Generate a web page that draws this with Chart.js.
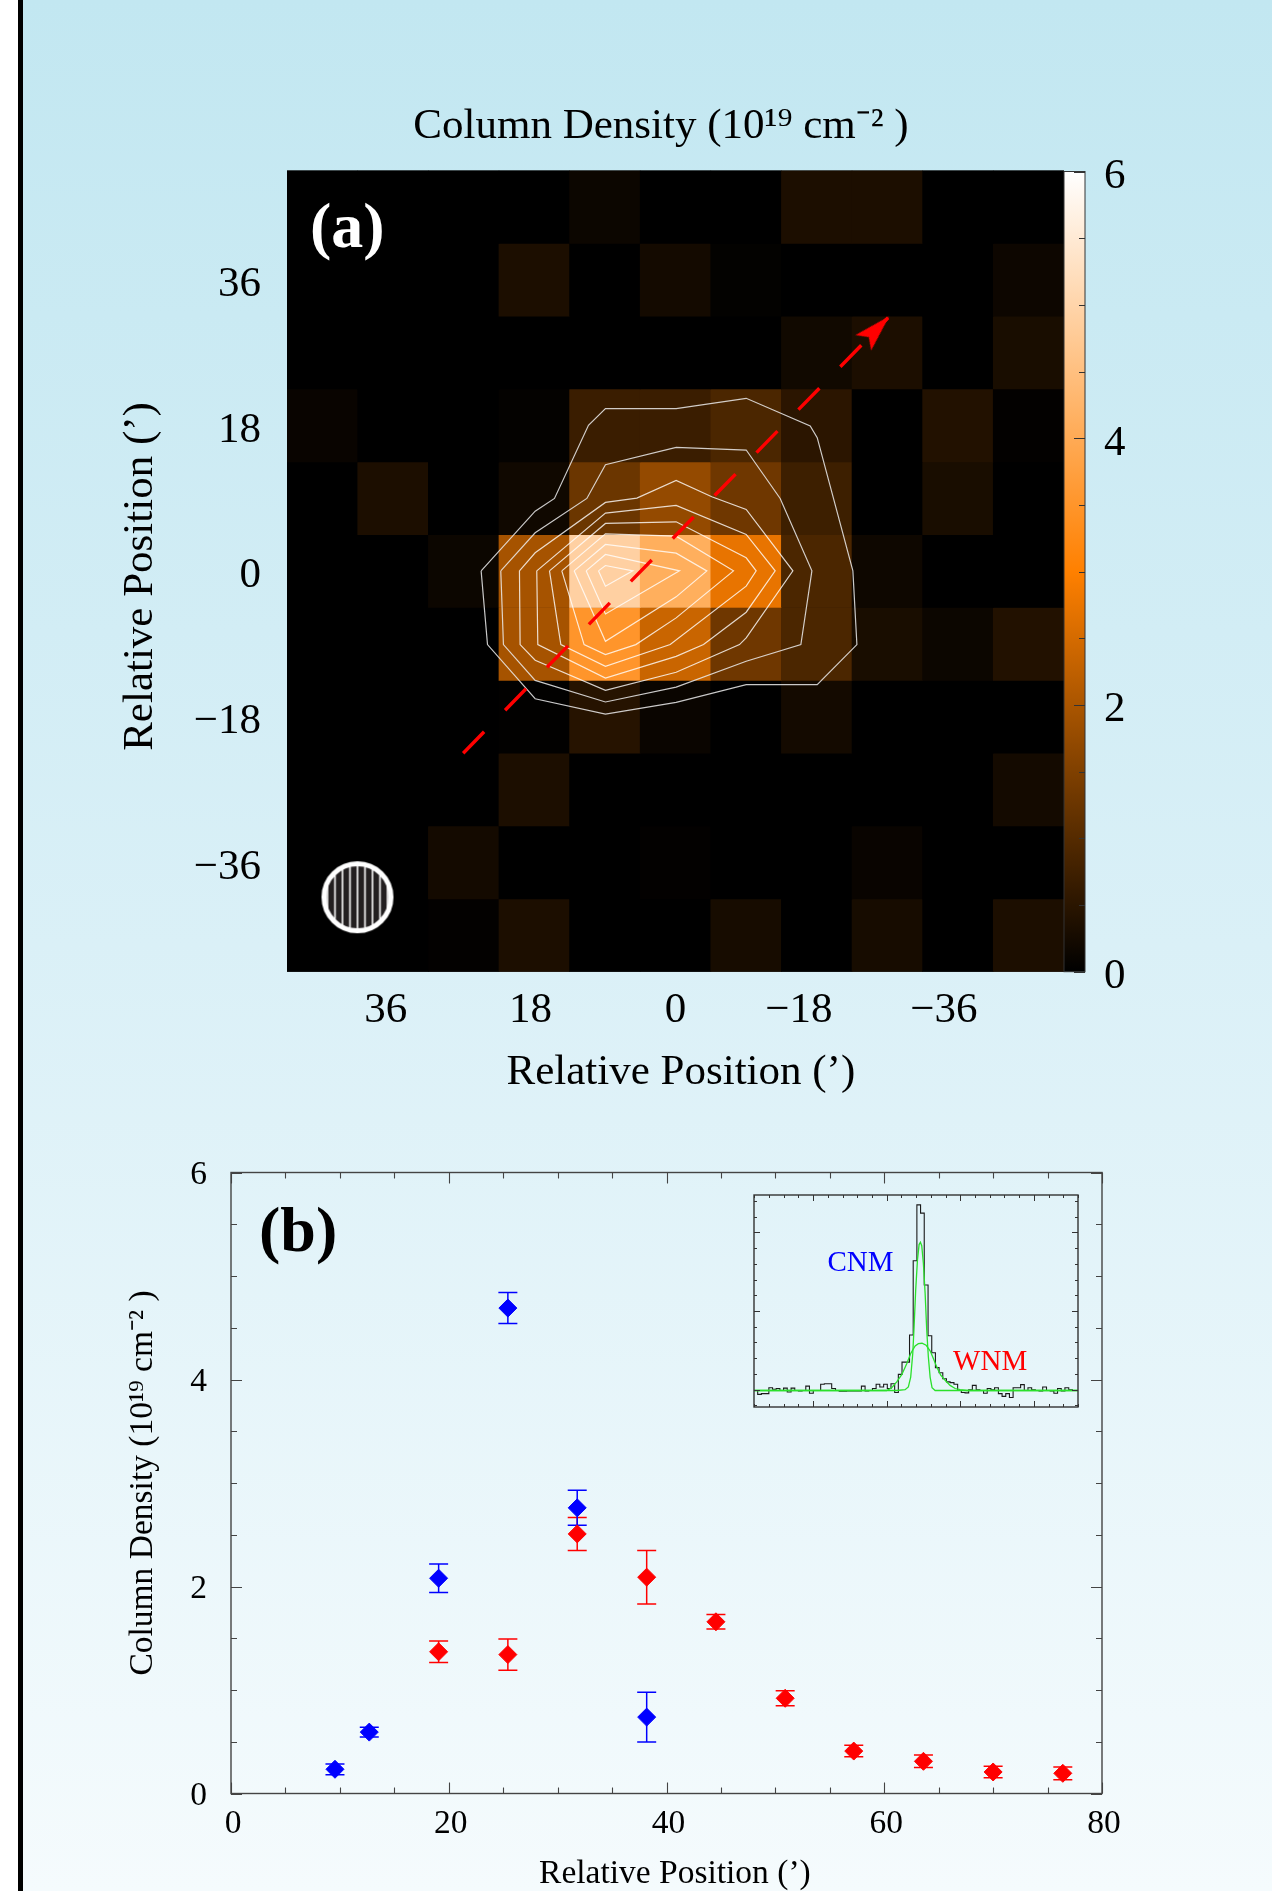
<!DOCTYPE html>
<html>
<head>
<meta charset="utf-8">
<title>Column Density</title>
<script src="https://cdn.jsdelivr.net/npm/chart.js@4"></script>
<style>
html,body{margin:0;padding:0;width:1272px;height:1891px;overflow:hidden;background:#fff}
#bg{position:absolute;left:23px;top:0;width:1249px;height:1891px;background:linear-gradient(180deg,#c2e7f1 0%,#daf0f7 50%,#f5fbfd 100%)}
#rule{position:absolute;left:18px;top:0;width:5px;height:1891px;background:#000}
canvas{position:absolute;display:block}
</style>
</head>
<body>
<div id="bg"></div><div id="rule"></div>
<canvas id="heat" width="1092" height="1001" style="left:115px;top:98px"></canvas>
<canvas id="bar" width="77" height="882" style="left:1063px;top:130px"></canvas>
<canvas id="profile" width="1009" height="752" style="left:123px;top:1142px"></canvas>
<canvas id="inset" width="328" height="216" style="left:752px;top:1193px"></canvas>
<script>
/* ---------- panel (a): column density map ---------- */
const mapColumns = [43.85, 35.08, 26.31, 17.54, 8.77, 0, -8.77, -17.54, -26.31, -35.08, -43.85];
const mapRows = [45, 36, 27, 18, 9, 0, -9, -18, -27, -36, -45];
const mapValues = [
  [0,0,0,0,0.14,0,0,0.33,0.33,0,0],
  [0,0,0,0.33,0,0.24,0.04,0,0,0,0.15],
  [0,0,0,0,0,0,0,0.2,0.33,0,0.3],
  [0.1,0,0,0.05,0.68,0.68,0.88,0.5,0,0.4,0.03],
  [0,0.33,0,0.19,1.26,1.74,1.3,0.72,0,0.3,0],
  [0,0,0.14,1.95,4.9,4.1,2.73,0.88,0.17,0,0],
  [0,0,0,1.95,3.5,2.36,1.3,0.88,0.3,0.14,0.4],
  [0,0,0,0.02,0.45,0.12,0,0.24,0,0,0],
  [0,0,0,0.33,0,0,0,0,0,0,0.24],
  [0,0,0.24,0,0,0.03,0,0,0.1,0,0],
  [0,0,0.03,0.33,0,0,0.27,0,0.27,0,0.33]
];
const contours = [
  [[24.14,0.03],[23.35,-9.08],[17.43,-15.77],[8.7,-17.66],[-0.08,-16.22],[-8.78,-14.03],[-17.6,-14.03],[-22.53,-9.08],[-22.03,0.03],[-17.6,16.49],[-16.73,17.93],[-8.78,21.35],[-0.08,20.07],[8.7,20.07],[10.81,18.01],[15.03,8.98],[17.43,7.41],[24.14,0.03]],
  [[21.7,0.03],[21.37,-9.08],[17.43,-13.5],[8.7,-16.17],[-0.08,-14.33],[-8.78,-11.14],[-15.57,-9.08],[-16.94,0.03],[-13,8.98],[-8.78,14.96],[-0.08,15.29],[8.7,13.15],[11.01,8.98],[17.43,4.73],[21.7,0.03]],
  [[19.38,0.03],[19.3,-9.08],[17.43,-11.02],[8.7,-14.73],[-0.08,-12.5],[-7.95,-9.08],[-8.78,-8.26],[-14.58,0.03],[-8.78,7.62],[-4.51,9.19],[-0.08,11.21],[4.8,9.02],[8.7,8.49],[17.43,2.26],[19.38,0.03]],
  [[17.23,0.03],[17.1,-9.08],[8.7,-13.21],[-0.08,-10.53],[-3.48,-9.08],[-8.78,-5.08],[-12.38,0.03],[-8.78,4.53],[-0.08,8.12],[8.7,7.17],[17.23,0.03]],
  [[15.65,0.03],[14.24,-9.08],[8.7,-11.76],[0.66,-9.08],[-8.78,-1.86],[-10.02,0.03],[-8.78,1.64],[-0.08,6.09],[8.7,5.89],[15.65,0.03]],
  [[14.12,0.03],[11.35,-9.08],[8.7,-10.32],[4.93,-9.08],[-0.08,-5.78],[-7.2,0.03],[-0.08,4.32],[8.7,4.61],[14.12,0.03]],
  [[12.59,0.03],[8.7,-8.67],[-0.08,-3.18],[-3.89,0.03],[-0.08,2.22],[8.7,3.29],[12.59,0.03]],
  [[11.1,0.03],[8.7,-5.29],[-0.5,0.03],[8.7,2.05],[11.1,0.03]],
  [[9.57,0.03],[8.7,-1.87],[5.3,0.03],[8.7,0.69],[9.57,0.03]]
];
const cutLine = [[26.37,-22.5],[-26.4,31.3]];
const arrowHeadAt = [-24.88,29.8];
const beamAt = [39.5,-40.3];
const mapTicks = [36,18,0,-18,-36];
const colorStopValues = [0,3,6];
const colorStopRgb = [[0,0,0],[255,128,0],[255,255,255]];
const colorbarMajor = [0,2,4,6];
const colorbarMinor = [0.5,1,1.5,2.5,3,3.5,4.5,5,5.5];

/* ---------- panel (b): column density vs position ---------- */
const cnmX = [9.55,12.7,19.07,25.43,31.8,38.18];
const cnmY = [0.234,0.593,2.08,4.69,2.76,0.738];
const cnmErr = [0.052,0.047,0.138,0.15,0.169,0.24];
const wnmX = [19.07,25.43,31.8,38.18,44.54,50.9,57.2,63.6,70,76.4];
const wnmY = [1.369,1.342,2.508,2.09,1.659,0.92,0.41,0.311,0.208,0.195];
const wnmErr = [0.104,0.15,0.159,0.259,0.07,0.072,0.055,0.06,0.056,0.061];
const profileXMajor = [0,20,40,60,80];
const profileXMinor = [5,10,15,25,30,35,45,50,55,65,70,75];
const profileYMajor = [0,2,4,6];
const profileYMinor = [0.5,1,1.5,2.5,3,3.5,4.5,5,5.5];

/* ---------- inset: spectrum with two components ---------- */
const spectrumV = [-90.2,-87.7,-85.2,-82.7,-80.1,-77.6,-75.1,-72.6,-70.1,-67.6,-65,-62.5,-60,-57.5,-55,-52.5,-49.9,-47.4,-44.9,-42.4,-39.9,-37.4,-34.8,-32.3,-29.8,-27.3,-24.8,-22.3,-19.8,-17.2,-14.7,-12.2,-9.7,-7.2,-4.7,-2.1,0.4,2.9,5.4,7.9,10.4,13,15.5,18,20.5,23,25.5,28.1,30.6,33.1,35.6,38.1,40.6,43.1,45.7,48.2,50.7,53.2,55.7,58.2,60.8,63.3,65.8,68.3,70.8,73.3,75.9,78.4,80.9,83.4,85.9,88.4,91,93.5,96,98.5,101,103.5,106,108.6,111.1,113.6,116.1,118.6,121.1,123.7,126.2,128.7,130];
const spectrumT = [-0.02,-0.12,-0.1,-0.1,0.05,0.01,0.03,-0.02,0.04,-0.06,0.04,-0.02,-0.03,-0.02,0.09,-0.09,-0.02,-0.02,0.14,0.15,0.15,0.03,-0.02,-0.04,-0.04,-0.03,-0.03,-0.03,-0.03,0.09,-0.03,-0.02,0.03,0.14,0.07,0.14,0.03,0.15,-0.07,0.39,0.7,0.7,1.39,3.28,4.7,4.49,2.66,1.37,0.94,0.56,0.43,0.28,0.2,0.18,0.14,-0.02,-0.07,-0.08,0,0.11,0,-0.02,-0.09,0.03,0,0.05,-0.1,-0.17,-0.1,-0.2,0.05,0.05,0.13,-0.02,0.05,0,-0.02,-0.03,0.07,-0.02,-0.03,-0.09,0.03,-0.03,0.05,0,-0.02,-0.02,-0.02];
const cnmFitV = [-90.2,6.8,12.5,14.7,16.3,17.7,18.6,19.7,20.9,22,22.9,23.8,24.9,26.1,27.2,28.3,29.5,30.8,32.9,130];
const cnmFitT = [-0.02,-0.02,0,0.07,0.32,0.92,1.6,2.54,3.3,3.69,3.75,3.66,3.22,2.45,1.51,0.83,0.32,0.05,-0.02,-0.02];
const wnmFitV = [-90.2,0,3.4,6.8,10.2,13.6,16.3,19.3,21.5,24,26.8,29.5,31.7,34,36.7,39.7,43.1,46.5,49.9,54.4,130];
const wnmFitT = [-0.02,-0.02,0.05,0.2,0.38,0.66,0.92,1.11,1.17,1.18,1.13,0.99,0.79,0.58,0.37,0.24,0.11,0.03,0,-0.02,-0.02];
const insetXMajor = [-50,0,50,100];
const insetXMinor = [-90,-80,-70,-60,-40,-30,-20,-10,10,20,30,40,60,70,80,90,110,120,130];
const insetYMajor = [0,2,4];
const insetYMinor = [-0.4,0.4,0.8,1.2,1.6,2.4,2.8,3.2,3.6,4.4,4.8];

/* ---------- helpers ---------- */
const SERIF = '"Liberation Serif","Times New Roman",serif';
const BLUE = '#0000ff', RED = '#ff0000';
const DENSITY_TITLE = 'Column Density (10\u00B9\u2079 cm\u207B\u00B2 )';

function mapColor(v){
  const k = v >= colorStopValues[1] ? 1 : 0;
  const t = (v - colorStopValues[k]) / (colorStopValues[k+1] - colorStopValues[k]);
  const a = colorStopRgb[k], b = colorStopRgb[k+1];
  return 'rgb(' + a.map((c,i)=>Math.round(c + (b[i]-c)*t)).join(',') + ')';
}
const pairs = (xs,ys)=>xs.map((x,i)=>({x:x,y:ys[i]}));
const toPts = list=>list.map(p=>({x:p[0],y:p[1]}));
function errorBars(xs,ys,es){
  const out=[];
  xs.forEach((x,i)=>{out.push({x:x,y:ys[i]-es[i]},{x:x,y:ys[i]+es[i]},{x:x,y:null});});
  return out;
}
/* fixed axis band: no extra room for half labels, the layout padding decides the plot box */
const fixBand = (prop,size)=>s=>{s[prop]=size;s.paddingTop=0;s.paddingBottom=0;s.paddingLeft=0;s.paddingRight=0;};
function arrowSprite(){
  const c=document.createElement('canvas');c.width=44;c.height=44;
  const g=c.getContext('2d');g.fillStyle=RED;
  g.beginPath();g.moveTo(22,3);g.lineTo(33,40);g.lineTo(22,32);g.lineTo(11,40);g.closePath();g.fill();
  return c;
}
function beamSprite(){
  const c=document.createElement('canvas');c.width=78;c.height=78;
  const g=c.getContext('2d');
  g.beginPath();g.arc(39,39,33.5,0,Math.PI*2);g.fillStyle='#231f20';g.fill();
  g.save();g.clip();g.strokeStyle='#ffffff';g.lineWidth=1.6;
  for(let x=9;x<74;x+=7.5){g.beginPath();g.moveTo(x,0);g.lineTo(x,78);g.stroke();}
  g.restore();
  g.beginPath();g.arc(39,39,33.5,0,Math.PI*2);g.strokeStyle='#ffffff';g.lineWidth=5;g.stroke();
  return c;
}
const blackPlot = {id:'blackPlot',beforeDatasetsDraw(ch){
  const a=ch.chartArea,c=ch.ctx;c.save();c.fillStyle='#000';c.fillRect(a.left,a.top,a.width,a.height);c.restore();
}};
const frameTicks = {id:'frameTicks',afterDatasetsDraw(ch,args,o){
  const a=ch.chartArea,c=ch.ctx,sx=ch.scales.x,sy=ch.scales.y;
  c.save();c.strokeStyle=o.color;c.lineWidth=o.width;c.beginPath();
  const V=(list,len)=>(list||[]).forEach(v=>{const p=Math.round(sx.getPixelForValue(v))+0.5;
    c.moveTo(p,a.bottom);c.lineTo(p,a.bottom-len);c.moveTo(p,a.top);c.lineTo(p,a.top+len);});
  const H=(list,len)=>(list||[]).forEach(v=>{const p=Math.round(sy.getPixelForValue(v))+0.5;
    if(!o.rightOnly){c.moveTo(a.left,p);c.lineTo(a.left+len,p);}
    c.moveTo(a.right,p);c.lineTo(a.right-len,p);});
  V(o.xMajor,o.majorLen);V(o.xMinor,o.minorLen);H(o.yMajor,o.majorLen);H(o.yMinor,o.minorLen);
  c.stroke();c.lineWidth=o.frameWidth||o.width;c.strokeRect(a.left,a.top,a.width,a.height);c.restore();
}};
const panelText = {id:'panelText',afterDraw(ch,args,o){
  const c=ch.ctx;c.save();
  o.items.forEach(t=>{c.font=t.font;c.fillStyle=t.color;c.textAlign=t.align;c.textBaseline='alphabetic';
    c.fillText(t.text,ch.scales.x.getPixelForValue(t.x),ch.scales.y.getPixelForValue(t.y));});
  c.restore();
}};
const minusLabel = v => v<0 ? '\u2212'+Math.abs(v) : String(v);

/* ---------- panel (a) chart ---------- */
const heatDatasets = mapRows.map((row,r)=>({
  type:'bar',order:5,grouped:false,barPercentage:1,categoryPercentage:1,borderWidth:0,
  data:mapColumns.map(x=>({x:x,y:[row-4.5,row+4.5]})),
  backgroundColor:mapValues[r].map(mapColor)
}));
const contourDatasets = contours.map((c,i)=>({
  type:'scatter',order:3,showLine:true,data:toPts(c),pointRadius:0,
  borderColor:i<2?'rgba(235,235,235,0.85)':'rgba(255,255,255,0.8)',borderWidth:1.2,tension:0
}));
new Chart(document.getElementById('heat'),{
  type:'bar',
  data:{datasets:[
    {type:'scatter',order:1,data:toPts([arrowHeadAt]),pointStyle:arrowSprite(),pointRadius:15,pointRotation:44.3,showLine:false},
    {type:'scatter',order:2,showLine:true,data:toPts(cutLine),pointRadius:0,borderColor:RED,borderWidth:3.4,borderDash:[30,30]},
    {type:'scatter',order:1,data:toPts([beamAt]),pointStyle:beamSprite(),pointRadius:30,showLine:false},
    ...contourDatasets,...heatDatasets
  ]},
  options:{
    responsive:false,animation:false,events:[],
    layout:{padding:0},
    plugins:{
      legend:{display:false},tooltip:{enabled:false},
      title:{display:true,text:DENSITY_TITLE,color:'#000',
        font:{family:SERIF,size:43,weight:'normal',lineHeight:1.2},padding:{top:3,bottom:17.9}},
      panelText:{items:[{text:'(a)',x:45.4,y:40.05,font:'bold 64px '+SERIF,color:'#fff',align:'left'}]}
    },
    scales:{
      x:{type:'linear',offset:false,reverse:true,min:-48.25,max:48.25,position:'bottom',
        afterBuildTicks:s=>{s.ticks=mapTicks.map(v=>({value:v}));},
        afterFit:fixBand('height',127.3),
        grid:{display:false,offset:false},border:{display:false},
        ticks:{padding:5,color:'#000',font:{family:SERIF,size:43},autoSkip:false,maxRotation:0,
          callback:v=>v<0?minusLabel(v)+'    ':minusLabel(v)},
        title:{display:true,text:' Relative Position (\u2019)',color:'#000',padding:0,
          font:{family:SERIF,size:43,lineHeight:1.2}}},
      y:{type:'linear',min:-49.5,max:49.5,position:'left',
        afterBuildTicks:s=>{s.ticks=mapTicks.map(v=>({value:v}));},
        afterFit:fixBand('width',172),
        grid:{display:false},border:{display:false},
        ticks:{padding:18,labelOffset:5,color:'#000',font:{family:SERIF,size:43},autoSkip:false,callback:minusLabel},
        title:{display:true,text:'Relative Position (\u2019) ',color:'#000',padding:0,
          font:{family:SERIF,size:43,lineHeight:1.2}}},
      spacer:{type:'linear',position:'right',display:true,afterFit:fixBand('width',143),
        grid:{display:false},border:{display:false},ticks:{display:false}}
    }
  },
  plugins:[blackPlot,panelText]
});

/* ---------- colour bar ---------- */
new Chart(document.getElementById('bar'),{
  type:'bar',
  data:{labels:['Column Density'],datasets:[{data:[[0,6]],barPercentage:1,categoryPercentage:1,borderWidth:0,
    backgroundColor:ctx=>{
      const a=ctx.chart.chartArea;if(!a)return '#000';
      const g=ctx.chart.ctx.createLinearGradient(0,a.bottom,0,a.top);
      colorStopValues.forEach((v,i)=>g.addColorStop(v/6,'rgb('+colorStopRgb[i].join(',')+')'));
      return g;
    }}]},
  options:{
    responsive:false,animation:false,events:[],
    layout:{padding:{top:41.5,bottom:40.3,left:1,right:0}},
    plugins:{legend:{display:false},tooltip:{enabled:false},
      frameTicks:{color:'#333',width:1,majorLen:11,minorLen:6,rightOnly:true,yMajor:colorbarMajor,yMinor:colorbarMinor}},
    scales:{
      x:{display:false},
      y:{position:'right',min:0,max:6,afterFit:fixBand('width',55),
        grid:{display:false},border:{display:false},
        ticks:{stepSize:2,padding:11,labelOffset:5,color:'#000',font:{family:SERIF,size:43}}}
    }
  },
  plugins:[frameTicks]
});

/* ---------- panel (b) chart ---------- */
new Chart(document.getElementById('profile'),{
  type:'scatter',
  data:{datasets:[
    {order:1,data:pairs(cnmX,cnmY),pointStyle:'rectRot',pointRadius:9,backgroundColor:BLUE,borderColor:BLUE},
    {order:2,data:pairs(wnmX,wnmY),pointStyle:'rectRot',pointRadius:9,backgroundColor:RED,borderColor:RED},
    {order:3,data:errorBars(cnmX,cnmY,cnmErr),showLine:true,spanGaps:false,borderColor:BLUE,borderWidth:1.5,
      pointStyle:'line',pointRadius:9.5,pointBorderColor:BLUE,pointBorderWidth:1.5},
    {order:4,data:errorBars(wnmX,wnmY,wnmErr),showLine:true,spanGaps:false,borderColor:RED,borderWidth:1.5,
      pointStyle:'line',pointRadius:9.5,pointBorderColor:RED,pointBorderWidth:1.5}
  ]},
  options:{
    responsive:false,animation:false,events:[],
    layout:{padding:{top:30.5,right:30}},
    plugins:{legend:{display:false},tooltip:{enabled:false},
      frameTicks:{color:'#444',width:1.1,frameWidth:1.4,majorLen:11,minorLen:6,
        xMajor:profileXMajor,xMinor:profileXMinor,yMajor:profileYMajor,yMinor:profileYMinor},
      panelText:{items:[{text:'(b)',x:2.57,y:5.24,font:'bold 64px '+SERIF,color:'#000',align:'left'}]}
    },
    scales:{
      x:{type:'linear',min:0,max:80,afterFit:fixBand('height',100.5),
        grid:{display:false},border:{display:false},
        ticks:{stepSize:20,padding:3,labelOffset:2,color:'#000',font:{family:SERIF,size:33.5},maxRotation:0},
        title:{display:true,text:'  Relative Position (\u2019)',color:'#000',padding:0,
          font:{family:SERIF,size:33.5,lineHeight:1.2}}},
      y:{type:'linear',min:0,max:6,afterFit:fixBand('width',108),
        grid:{display:false},border:{display:false},
        ticks:{stepSize:2,padding:16,labelOffset:2.5,color:'#000',font:{family:SERIF,size:33.5}},
        title:{display:true,text:DENSITY_TITLE,color:'#000',padding:0,
          font:{family:SERIF,size:33.5,lineHeight:1.2}}}
    }
  },
  plugins:[frameTicks,panelText]
});

/* ---------- inset chart ---------- */
new Chart(document.getElementById('inset'),{
  type:'scatter',
  data:{datasets:[
    {order:1,data:pairs(cnmFitV,cnmFitT),showLine:true,pointRadius:0,borderColor:'#2be02b',borderWidth:1.3,tension:0},
    {order:2,data:pairs(wnmFitV,wnmFitT),showLine:true,pointRadius:0,borderColor:'#2be02b',borderWidth:1.3,tension:0},
    {order:3,data:pairs(spectrumV,spectrumT),showLine:true,stepped:'before',pointRadius:0,borderColor:'#1a1a1a',borderWidth:1.1}
  ]},
  options:{
    responsive:false,animation:false,events:[],
    layout:{padding:2},
    plugins:{legend:{display:false},tooltip:{enabled:false},
      frameTicks:{color:'#333',width:1,frameWidth:1.4,majorLen:6,minorLen:3,
        xMajor:insetXMajor,xMinor:insetXMinor,yMajor:insetYMajor,yMinor:insetYMinor},
      panelText:{items:[
        {text:'CNM',x:-17.8,y:3.03,font:'29px '+SERIF,color:BLUE,align:'center'},
        {text:'WNM',x:70.3,y:0.49,font:'29px '+SERIF,color:RED,align:'center'}
      ]}
    },
    scales:{
      x:{type:'linear',min:-90.2,max:130,display:false},
      y:{type:'linear',min:-0.44,max:4.95,display:false}
    }
  },
  plugins:[frameTicks,panelText]
});
</script>
</body>
</html>
